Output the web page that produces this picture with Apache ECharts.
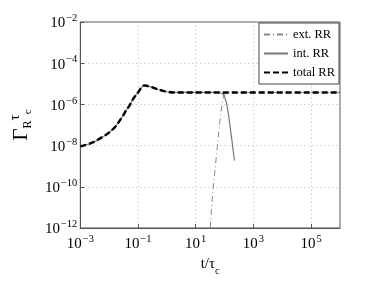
<!DOCTYPE html>
<html><head><meta charset="utf-8">
<script src="https://cdn.jsdelivr.net/npm/echarts@6/dist/echarts.min.js"></script>
<style>html,body{margin:0;padding:0;background:#fff}#c{width:374px;height:282px}</style>
</head><body><div id="c"></div>
<script>
// Data (t/tau_c, Gamma_R tau_c)
const totalX = [1e-3, 2e-3, 3e-3, 5e-3, 7e-3, 1e-2, 1.5e-2, 2e-2, 3e-2, 4e-2, 5e-2, 7e-2, 0.1, 0.13, 0.16, 0.2, 0.3, 0.5, 0.8, 1, 1.5, 3, 10, 100, 1e3, 1e4, 1e5, 1e6];
const totalY = [9.1e-9, 1.2e-8, 1.5e-8, 2.3e-8, 3.0e-8, 4.3e-8, 7.2e-8, 1.2e-7, 2.8e-7, 5.5e-7, 8.5e-7, 2.0e-6, 3.8e-6, 6.5e-6, 8.4e-6, 8.0e-6, 6.9e-6, 5.3e-6, 4.4e-6, 4.1e-6, 3.8e-6, 3.8e-6, 3.8e-6, 3.8e-6, 3.8e-6, 3.8e-6, 3.8e-6, 3.8e-6];
const intX = [1e-3, 2e-3, 3e-3, 5e-3, 7e-3, 1e-2, 1.5e-2, 2e-2, 3e-2, 4e-2, 5e-2, 7e-2, 0.1, 0.13, 0.16, 0.2, 0.3, 0.5, 0.8, 1, 1.5, 3, 10, 40, 70, 89, 100, 117, 135, 155, 174, 190, 219];
const intY = [9.1e-9, 1.2e-8, 1.5e-8, 2.3e-8, 3.0e-8, 4.3e-8, 7.2e-8, 1.2e-7, 2.8e-7, 5.5e-7, 8.5e-7, 2.0e-6, 3.8e-6, 6.5e-6, 8.4e-6, 8.0e-6, 6.9e-6, 5.3e-6, 4.4e-6, 4.1e-6, 3.8e-6, 3.8e-6, 3.8e-6, 3.8e-6, 3.7e-6, 3.2e-6, 2.2e-6, 1.2e-6, 3.5e-7, 8.5e-8, 2.5e-8, 9.1e-9, 1.9e-9];
const extX = [31.6, 35.5, 40.7, 47.9, 56.2, 64.6, 74, 91, 112, 158, 1e3, 1e4, 1e5, 1e6];
const extY = [1e-12, 1e-11, 1.07e-10, 1e-9, 9.1e-9, 6.3e-8, 3.8e-7, 2.4e-6, 3.5e-6, 3.8e-6, 3.8e-6, 3.8e-6, 3.8e-6, 3.8e-6];
const seriesNames = ['ext. RR', 'int. RR', 'total RR'];
const xTickExps = [-3, -1, 1, 3, 5];
const yTickExps = [-12, -10, -8, -6, -4, -2];

const pair = (xs, ys) => xs.map((x, i) => [x, ys[i]]);
const serif = 'Liberation Serif, Times New Roman, serif';
function powLabel(v) {
  const e = Math.round(Math.log10(v));
  return '{b|10}{s|' + String(e).replace('-', '\u2212') + '}';
}
const rich = {
  b: { fontFamily: serif, fontSize: 15, color: '#000', lineHeight: 18, verticalAlign: 'bottom' },
  s: { fontFamily: serif, fontSize: 10.5, color: '#000', lineHeight: 18, verticalAlign: 'top', padding: [0, 0, 0, 1] }
};
const chart = echarts.init(document.getElementById('c'), null, { renderer: 'canvas' });
chart.setOption({
  animation: false,
  backgroundColor: '#fff',
  grid: { left: 79, right: 34, top: 22, bottom: 54, show: true, borderColor: '#555', borderWidth: 1, containLabel: false },
  legend: {
    data: seriesNames, orient: 'vertical', right: 35, top: 23,
    itemWidth: 24, itemHeight: 12, itemGap: 6, padding: [5, 4, 5, 4],
    backgroundColor: '#fff', borderColor: '#444', borderWidth: 1,
    itemStyle: { opacity: 0 },
    textStyle: { fontFamily: serif, fontSize: 12.5, color: '#000' }
  },
  xAxis: {
    type: 'log', logBase: 10, min: Math.pow(10, xTickExps[0]), max: 1e6, interval: 2,
    name: '{t|t/τ}{c|c}', nameLocation: 'middle', nameGap: 21,
    nameTextStyle: { rich: {
      t: { fontFamily: serif, fontSize: 15, color: '#000', lineHeight: 20, verticalAlign: 'top' },
      c: { fontFamily: serif, fontSize: 10.5, color: '#000', lineHeight: 20, verticalAlign: 'bottom' } } },
    axisLine: { show: true, lineStyle: { color: '#555' } },
    axisTick: { show: true, inside: true, length: 4, lineStyle: { color: '#555' } },
    axisLabel: { formatter: powLabel, rich: rich, margin: 6, showMaxLabel: false },
    splitLine: { show: true, lineStyle: { color: '#bbb', type: [1, 3], width: 1 } },
    minorTick: { show: false }
  },
  yAxis: {
    type: 'log', logBase: 10, min: Math.pow(10, yTickExps[0]), max: Math.pow(10, yTickExps[yTickExps.length - 1]), interval: 2,
    name: '{g|Γ}{r|R}{u|τ}{c|c}', nameLocation: 'middle', nameGap: 45, nameRotate: 90,
    nameTextStyle: { rich: {
      g: { fontFamily: serif, fontSize: 21, color: '#000', lineHeight: 26, verticalAlign: 'middle' },
      r: { fontFamily: serif, fontSize: 12, color: '#000', lineHeight: 26, verticalAlign: 'bottom' },
      u: { fontFamily: serif, fontSize: 15, color: '#000', lineHeight: 26, verticalAlign: 'top' },
      c: { fontFamily: serif, fontSize: 11, color: '#000', lineHeight: 26, verticalAlign: 'bottom' } } },
    axisLine: { show: true, lineStyle: { color: '#555' } },
    axisTick: { show: true, inside: true, length: 4, lineStyle: { color: '#555' } },
    axisLabel: { formatter: powLabel, rich: rich, margin: 3 },
    splitLine: { show: true, lineStyle: { color: '#bbb', type: [1, 3], width: 1 } }
  },
  series: [
    { name: seriesNames[0], type: 'line', data: pair(extX, extY), symbol: 'none', clip: true,
      lineStyle: { color: '#888', width: 1, type: [6, 3, 1, 3] }, itemStyle: { color: '#888' } },
    { name: seriesNames[1], type: 'line', data: pair(intX, intY), symbol: 'none', clip: true,
      lineStyle: { color: '#777', width: 1.2, type: 'solid' }, itemStyle: { color: '#777' } },
    { name: seriesNames[2], type: 'line', data: pair(totalX, totalY), symbol: 'none', clip: true,
      lineStyle: { color: '#000', width: 2.4, type: [6, 3] }, itemStyle: { color: '#000' } }
  ]
});
</script></body></html>
